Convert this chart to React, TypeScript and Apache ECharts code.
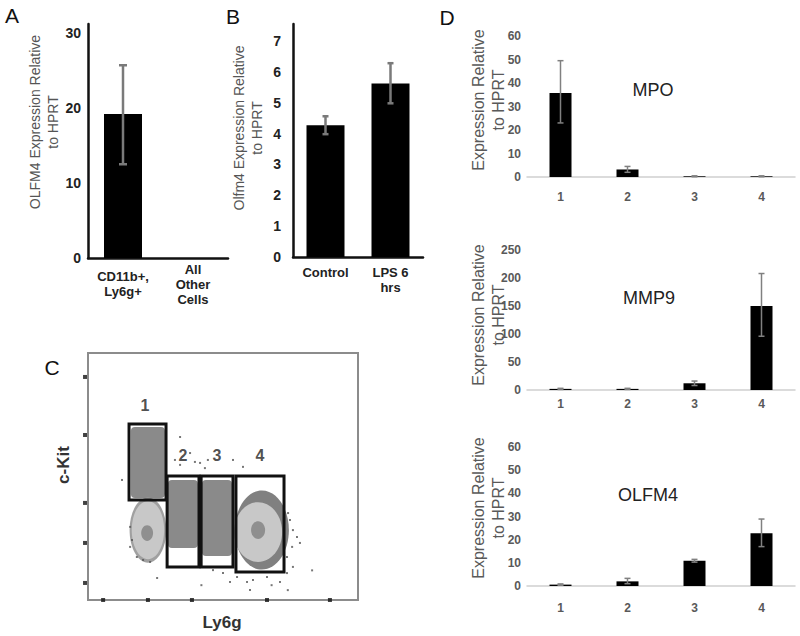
import React, { useEffect, useRef } from "react";
import * as echarts from "echarts";

// ---------- Panel A ----------
const aCategories = ["CD11b+,\nLy6g+", "All\nOther\nCells"];
const aValues = [19.2, 0];
const aErrors = [[12.5, 25.7]];
// ---------- Panel B ----------
const bCategories = ["Control", "LPS 6\nhrs"];
const bValues = [4.27, 5.62];
const bErrors = [[3.98, 4.56], [4.98, 6.28]];
// ---------- Panel D ----------
const dCategories = ["1", "2", "3", "4"];
const mpoValues = [35.7, 3.2, 0.3, 0.3];
const mpoErrors = [[23, 49.5], [2, 4.5], [0.1, 0.5], [0.1, 0.5]];
const mmp9Values = [2, 2, 12, 150];
const mmp9Errors = [[1, 3], [1, 3], [8, 16], [96, 208]];
const olfm4Values = [0.6, 2, 10.9, 22.8];
const olfm4Errors = [[0.3, 0.9], [1, 3.3], [10.3, 11.5], [17, 28.9]];
// ---------- Panel C (flow cytometry, arbitrary 0-1000 units) ----------
const flowXTicks = [56, 222, 385, 663, 896];
const flowYTicks = [903, 668, 393, 231, 69];
// gates: [xMin, xMax, yMin, yMax]
const flowGates = [
  [152, 289, 405, 713],
  [293, 411, 134, 502],
  [419, 537, 134, 502],
  [548, 726, 113, 502],
];
const flowGateLabels = [
  { value: [211, 786], name: "1" },
  { value: [352, 587], name: "2" },
  { value: [478, 587], name: "3" },
  { value: [637, 587], name: "4" },
];
// dense dark regions: [xMin, xMax, yMin, yMax]
const flowDenseRegions = [
  [159, 285, 413, 700],
  [296, 407, 211, 486],
  [422, 533, 178, 486],
];
// ellipses: [cx, cy, rx, ry, shade]
const flowEllipses = [
  [644, 283, 100, 160, 0],
  [222, 283, 68, 132, 1],
  [222, 283, 60, 118, 2],
  [219, 271, 22, 32, 3],
  [630, 275, 89, 121, 2],
  [630, 283, 26, 36, 3],
];
const flowShades = ["#808080", "#a0a0a0", "#c8c8c8", "#8f8f8f"];
const flowOutliers = [
  [322, 567], [341, 547], [378, 595], [396, 559], [415, 555], [433, 534], [444, 567],
  [537, 567], [574, 539], [341, 660], [741, 352], [748, 324], [759, 283], [774, 255],
  [756, 215], [737, 174], [785, 231], [463, 121], [500, 109], [552, 93], [589, 73],
  [611, 81], [663, 93], [711, 73], [737, 109], [759, 134], [526, 73], [156, 296],
  [163, 243], [156, 215], [181, 174], [204, 162], [230, 154], [256, 89], [126, 486],
  [600, 40], [680, 60], [740, 40], [830, 120], [420, 60],
];

const FONT = "Liberation Sans, Arial, sans-serif";

function errorRender(capHalf: number, color: string, width: number) {
  return (params: any, api: any) => {
    const x = api.value(0);
    const lo = api.coord([x, api.value(1)]);
    const hi = api.coord([x, api.value(2)]);
    const st = { stroke: color, lineWidth: width };
    return {
      type: "group",
      children: [
        { type: "line", shape: { x1: lo[0], y1: lo[1], x2: hi[0], y2: hi[1] }, style: st },
        { type: "line", shape: { x1: hi[0] - capHalf, y1: hi[1], x2: hi[0] + capHalf, y2: hi[1] }, style: st },
        { type: "line", shape: { x1: lo[0] - capHalf, y1: lo[1], x2: lo[0] + capHalf, y2: lo[1] }, style: st },
      ],
    };
  };
}

function errData(errs: number[][], startIndex = 0) {
  return errs.map((e, i) => [i + startIndex, e[0], e[1]]);
}

export default function App() {
  const ref = useRef<HTMLDivElement>(null);
  useEffect(() => {
    if (!ref.current) return;
    const chart = echarts.init(ref.current, undefined, { renderer: "svg" });

    const abLabel = { fontFamily: FONT, fontWeight: "bold", fontSize: 14, color: "#222" };
    const dLabel = { fontFamily: FONT, fontWeight: "bold", fontSize: 12, color: "#595959" };

    const dX = (gi: number, margin: number) => ({
      type: "category",
      gridIndex: gi,
      data: dCategories,
      axisLine: { lineStyle: { color: "#d0d0d0", width: 1.5 } },
      axisTick: { show: false },
      axisLabel: { ...dLabel, margin },
    });
    const dY = (gi: number, max: number, interval: number) => ({
      type: "value",
      gridIndex: gi,
      min: 0,
      max,
      interval,
      axisLine: { show: false },
      axisTick: { show: false },
      splitLine: { show: false },
      axisLabel: { ...dLabel, margin: 6 },
    });

    const rotTitle = (text: string, x: number, y: number, size: number, color: string, weight = "normal") => ({
      type: "text",
      x,
      y,
      rotation: Math.PI / 2,
      style: {
        text,
        fontFamily: FONT,
        fontSize: size,
        fontWeight: weight,
        fill: color,
        align: "center",
        verticalAlign: "middle",
        lineHeight: size + 4,
      },
    });
    const plainText = (text: string, x: number, y: number, size: number, color: string, weight = "normal") => ({
      type: "text",
      x,
      y,
      style: { text, fontFamily: FONT, fontSize: size, fontWeight: weight, fill: color, align: "center", verticalAlign: "middle" },
    });

    const option: any = {
      animation: false,
      backgroundColor: "#ffffff",
      grid: [
        { left: 88, top: 24, width: 140, height: 234 },
        { left: 293, top: 24, width: 130, height: 233 },
        { left: 88, top: 353, width: 270, height: 247, show: true, borderColor: "#8c8c8c", borderWidth: 2 },
        { left: 527, top: 36, width: 268, height: 141 },
        { left: 527, top: 250, width: 268, height: 140 },
        { left: 527, top: 447, width: 268, height: 139 },
      ],
      xAxis: [
        {
          type: "category",
          gridIndex: 0,
          data: aCategories,
          axisLine: { lineStyle: { color: "#111", width: 2.5 } },
          axisTick: { show: false },
          axisLabel: { ...abLabel, fontSize: 13, lineHeight: 15, verticalAlign: "middle", margin: 26 },
        },
        {
          type: "category",
          gridIndex: 1,
          data: bCategories,
          axisLine: { lineStyle: { color: "#111", width: 2.5 } },
          axisTick: { show: false },
          axisLabel: { ...abLabel, fontSize: 13, lineHeight: 15, margin: 8 },
        },
        {
          type: "value",
          gridIndex: 2,
          min: 0,
          max: 1000,
          axisLine: { show: false },
          axisTick: { show: false },
          axisLabel: { show: false },
          splitLine: { show: false },
        },
        dX(3, 14),
        dX(4, 8),
        dX(5, 16),
      ],
      yAxis: [
        {
          type: "value",
          gridIndex: 0,
          min: 0,
          max: 31.2,
          interval: 10,
          axisLine: { show: true, lineStyle: { color: "#111", width: 2.5 } },
          axisTick: { show: false },
          splitLine: { show: false },
          axisLabel: { ...abLabel, margin: 7, formatter: (v: number) => (v % 10 === 0 ? String(v) : "") },
        },
        {
          type: "value",
          gridIndex: 1,
          min: 0,
          max: 7.55,
          interval: 1,
          axisLine: { show: true, lineStyle: { color: "#111", width: 2.5 } },
          axisTick: { show: false },
          splitLine: { show: false },
          axisLabel: { ...abLabel, margin: 12, formatter: (v: number) => (Number.isInteger(v) ? String(v) : "") },
        },
        {
          type: "value",
          gridIndex: 2,
          min: 0,
          max: 1000,
          axisLine: { show: false },
          axisTick: { show: false },
          axisLabel: { show: false },
          splitLine: { show: false },
        },
        dY(3, 60, 10),
        dY(4, 250, 50),
        dY(5, 60, 10),
      ],
      series: [
        // Panel A
        { type: "bar", xAxisIndex: 0, yAxisIndex: 0, data: aValues, barWidth: 38, itemStyle: { color: "#000" } },
        {
          type: "custom", xAxisIndex: 0, yAxisIndex: 0, data: errData(aErrors),
          encode: { x: 0, y: [1, 2] }, renderItem: errorRender(4, "#7a7a7a", 2.5), z: 5,
        },
        // Panel B
        { type: "bar", xAxisIndex: 1, yAxisIndex: 1, data: bValues, barWidth: 38, itemStyle: { color: "#000" } },
        {
          type: "custom", xAxisIndex: 1, yAxisIndex: 1, data: errData(bErrors),
          encode: { x: 0, y: [1, 2] }, renderItem: errorRender(3, "#7a7a7a", 2.5), z: 5,
        },
        // Panel D - MPO
        { type: "bar", xAxisIndex: 3, yAxisIndex: 3, data: mpoValues, barWidth: 22, itemStyle: { color: "#000" } },
        {
          type: "custom", xAxisIndex: 3, yAxisIndex: 3, data: errData(mpoErrors),
          encode: { x: 0, y: [1, 2] }, renderItem: errorRender(3, "#808080", 1.5), z: 5,
        },
        // Panel D - MMP9
        { type: "bar", xAxisIndex: 4, yAxisIndex: 4, data: mmp9Values, barWidth: 22, itemStyle: { color: "#000" } },
        {
          type: "custom", xAxisIndex: 4, yAxisIndex: 4, data: errData(mmp9Errors),
          encode: { x: 0, y: [1, 2] }, renderItem: errorRender(3, "#808080", 1.5), z: 5,
        },
        // Panel D - OLFM4
        { type: "bar", xAxisIndex: 5, yAxisIndex: 5, data: olfm4Values, barWidth: 22, itemStyle: { color: "#000" } },
        {
          type: "custom", xAxisIndex: 5, yAxisIndex: 5, data: errData(olfm4Errors),
          encode: { x: 0, y: [1, 2] }, renderItem: errorRender(3, "#808080", 1.5), z: 5,
        },
        // Panel C - dense regions
        {
          type: "custom", xAxisIndex: 2, yAxisIndex: 2, data: flowDenseRegions, z: 2,
          encode: { x: [0, 1], y: [2, 3] },
          renderItem: (p: any, api: any) => {
            const a = api.coord([api.value(0), api.value(3)]);
            const b = api.coord([api.value(1), api.value(2)]);
            return {
              type: "rect",
              shape: { x: a[0], y: a[1], width: b[0] - a[0], height: b[1] - a[1], r: 4 },
              style: { fill: "#8a8a8a" },
            };
          },
        },
        // Panel C - ellipses
        {
          type: "custom", xAxisIndex: 2, yAxisIndex: 2, data: flowEllipses, z: 3,
          encode: { x: 0, y: 1 },
          renderItem: (p: any, api: any) => {
            const c = api.coord([api.value(0), api.value(1)]);
            const s = api.size([api.value(2), api.value(3)]);
            return {
              type: "ellipse",
              shape: { cx: c[0], cy: c[1], rx: s[0], ry: s[1] },
              style: { fill: flowShades[api.value(4)] },
            };
          },
        },
        // Panel C - outlier events
        {
          type: "scatter", xAxisIndex: 2, yAxisIndex: 2, data: flowOutliers, symbol: "rect",
          symbolSize: 2, itemStyle: { color: "#555" }, z: 4,
        },
        // Panel C - gates
        {
          type: "custom", xAxisIndex: 2, yAxisIndex: 2, data: flowGates, z: 6,
          encode: { x: [0, 1], y: [2, 3] },
          renderItem: (p: any, api: any) => {
            const a = api.coord([api.value(0), api.value(3)]);
            const b = api.coord([api.value(1), api.value(2)]);
            return {
              type: "rect",
              shape: { x: a[0], y: a[1], width: b[0] - a[0], height: b[1] - a[1] },
              style: { fill: "none", stroke: "#111", lineWidth: 3 },
            };
          },
        },
        // Panel C - gate labels
        {
          type: "scatter", xAxisIndex: 2, yAxisIndex: 2, data: flowGateLabels, symbolSize: 1,
          itemStyle: { color: "rgba(0,0,0,0)" }, z: 7,
          label: { show: true, position: "inside", formatter: "{b}", fontFamily: FONT, fontWeight: "bold", fontSize: 16, color: "#222" },
        },
        // Panel C - axis tick dots
        {
          type: "scatter", xAxisIndex: 2, yAxisIndex: 2, clip: false, symbol: "rect", symbolSize: 4,
          itemStyle: { color: "#111" }, z: 8,
          data: flowYTicks.map((y) => [-11, y]),
        },
        {
          type: "scatter", xAxisIndex: 2, yAxisIndex: 2, clip: false, symbol: "rect", symbolSize: 4,
          itemStyle: { color: "#111" }, z: 8,
          data: flowXTicks.map((x) => [x, 0]),
        },
      ],
      graphic: [
        plainText("A", 12, 15, 21, "#111"),
        plainText("B", 233, 16, 21, "#111"),
        plainText("C", 52, 367, 21, "#111"),
        plainText("D", 447, 17, 21, "#111"),
        rotTitle("OLFM4 Expression Relative\nto HPRT", 44, 122, 14, "#555"),
        rotTitle("Olfm4 Expression Relative\nto HPRT", 248, 128, 14, "#555"),
        rotTitle("Expression Relative\nto HPRT", 488, 100, 16, "#595959"),
        rotTitle("Expression Relative\nto HPRT", 488, 315, 16, "#595959"),
        rotTitle("Expression Relative\nto HPRT", 488, 508, 16, "#595959"),
        plainText("MPO", 653, 90, 18, "#222"),
        plainText("MMP9", 649, 298, 18, "#222"),
        plainText("OLFM4", 648, 495, 18, "#222"),
        rotTitle("c-Kit", 63, 465, 17, "#333", "bold"),
        plainText("Ly6g", 222, 622, 17, "#333", "bold"),
      ],
    };
    chart.setOption(option);
    return () => chart.dispose();
  }, []);
  return (
    <div
      ref={ref}
      style={{ position: "absolute", left: 0, top: 0, width: 800, height: 636, background: "#fff" }}
    />
  );
}
